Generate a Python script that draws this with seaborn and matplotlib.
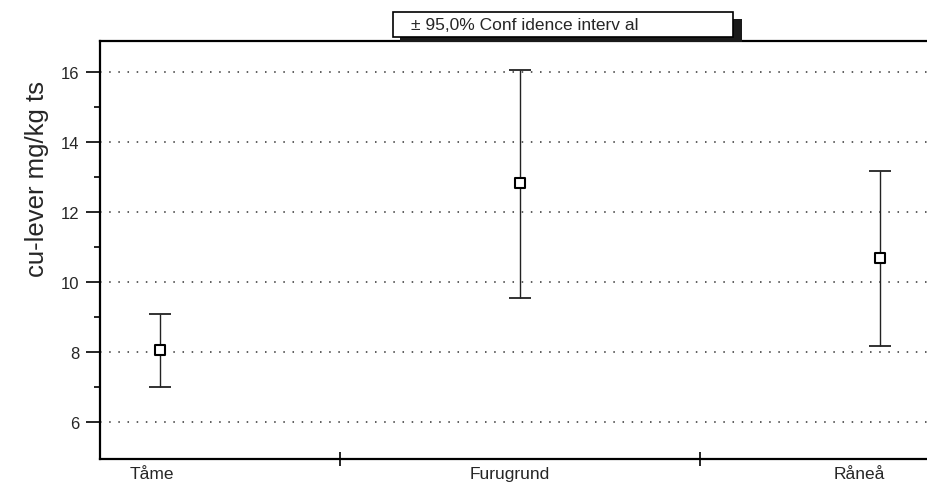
import numpy as np
import pandas as pd
import matplotlib
matplotlib.use("Agg")
import matplotlib.pyplot as plt
import matplotlib.transforms as mtransforms
import seaborn as sns
from matplotlib.patches import Rectangle

# data
sites = ["Tåme", "Furugrund", "Råneå"]
means = [8.06, 12.83, 10.69]
ci_low = [7.0, 9.54, 8.17]
ci_high = [9.09, 16.06, 13.17]

sns.set_style("ticks")
plt.rcParams['font.family'] = ['Liberation Sans', 'DejaVu Sans']

df = pd.DataFrame({"site": sites, "pos": np.arange(len(sites)), "mean": means,
                   "lo": ci_low, "hi": ci_high})

W, H = 928, 485
fig = plt.figure(figsize=(W / 100, H / 100), dpi=100)
ax = fig.add_axes([100 / W, 25 / H, 1 - 100 / W, 418 / H])

# grid lines
for g in [6, 8, 10, 12, 14, 16]:
    ax.axhline(g, color="#333333", lw=1.1, ls=(0, (1, 5)), zorder=0)

ax.errorbar(df["pos"], df["mean"],
            yerr=[df["mean"] - df["lo"], df["hi"] - df["mean"]],
            fmt="none", ecolor="#222222", elinewidth=1.0, capsize=8,
            capthick=1.3, zorder=2)
sns.scatterplot(data=df, x="pos", y="mean", marker="s", s=45,
                facecolor="white", edgecolor="black", linewidth=1.5,
                ax=ax, zorder=3, legend=False)

ax.set_xlim(-0.167, (W - 160) / 360)
ax.set_ylim(4.95, 16.9)
ax.set_yticks([6, 8, 10, 12, 14, 16])
ax.set_yticks([7, 9, 11, 13, 15], minor=True)
ax.set_xticks(df["pos"])
ax.set_xticklabels(sites, fontsize=12.5)
ax.set_xticks([0.5, 1.5], minor=True)
ax.tick_params(axis="x", which="major", length=0, pad=5)
ax.tick_params(axis="x", which="minor", length=10, width=1.2,
               direction="inout", color="black")
ax.tick_params(axis="y", which="major", length=10, width=1.2,
               labelsize=12, pad=5, color="black")
ax.tick_params(axis="y", which="minor", length=4, width=1.2, color="black")
ax.set_xlabel("")
ax.set_ylabel("")

# labels sit a little left of the category in the original
for lab, dx in zip(ax.get_xticklabels(), [-8, -10, -21]):
    lab.set_transform(lab.get_transform() +
                      mtransforms.ScaledTranslation(dx / 100, 0, fig.dpi_scale_trans))

fig.text(37 / W, 1 - 179 / H, "cu-lever mg/kg ts", rotation=90,
         fontsize=18.5, ha="center", va="center")

for side in ["left", "bottom", "top"]:
    ax.spines[side].set_linewidth(1.6)
    ax.spines[side].set_color("black")
ax.spines["right"].set_visible(False)

# legend box with shadow
shadow = Rectangle((400 / W, 1 - 43 / H), 342 / W, 23 / H,
                   transform=fig.transFigure, facecolor="#1a1a1a",
                   edgecolor="none", zorder=5)
box = Rectangle((393 / W, 1 - 38 / H), 340 / W, 25 / H,
                transform=fig.transFigure, facecolor="white",
                edgecolor="black", lw=1.2, zorder=6)
fig.patches.extend([shadow, box])
fig.text(411 / W, 1 - 26 / H, "± 95,0% Conf idence interv al",
         fontsize=12.5, va="center", ha="left", zorder=7)

fig.savefig("out.png", dpi=100)
